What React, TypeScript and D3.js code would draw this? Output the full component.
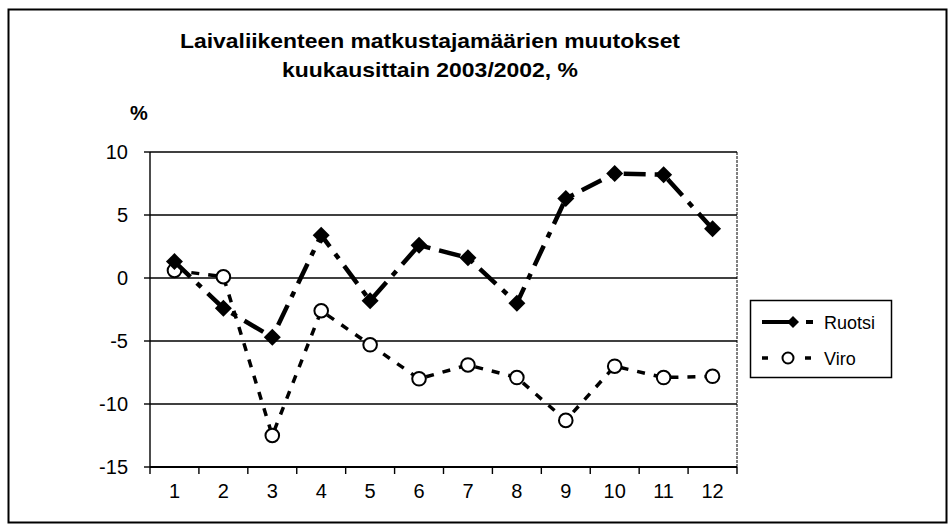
import React from "react";
import * as d3 from "d3";

const months = ["1", "2", "3", "4", "5", "6", "7", "8", "9", "10", "11", "12"];
const ruotsi = [1.3, -2.4, -4.7, 3.4, -1.8, 2.6, 1.6, -2.0, 6.3, 8.3, 8.2, 3.9];
const viro = [0.6, 0.1, -12.5, -2.6, -5.3, -8.0, -6.9, -7.9, -11.3, -7.0, -7.9, -7.8];
const yTicks = [10, 5, 0, -5, -10, -15];

const W = 950;
const H = 524;
const plot = { left: 150, right: 737, top: 152, bottom: 467 };
const font = "'Liberation Sans', Arial, sans-serif";

const diamondPath = (r: number) => `M0,${-r}L${r},0L0,${r}L${-r},0Z`;

export default function App() {
  const x = d3.scaleBand<string>().domain(months).range([plot.left, plot.right]);
  const y = d3.scaleLinear().domain([-15, 10]).range([plot.bottom, plot.top]);
  const cx = (m: string) => (x(m) as number) + x.bandwidth() / 2;
  const line = d3
    .line<number>()
    .x((_, i) => cx(months[i]))
    .y((v) => y(v));
  const boundaries = d3.range(months.length + 1).map((i) => plot.left + i * x.bandwidth());

  const legX = 750;
  const legY = 300;
  const legW = 141;
  const legH = 77;

  return (
    <svg
      width={W}
      height={H}
      style={{ position: "absolute", left: 0, top: 0, background: "#fff" }}
    >
      <rect x={0} y={0} width={W} height={H} fill="#fff" />
      <rect x={8.5} y={9.5} width={938} height={513} fill="none" stroke="#000" strokeWidth={2} />
      <text x={430} y={48} textAnchor="middle" fontFamily={font} fontWeight="bold" fontSize={21}
        textLength={500} lengthAdjust="spacingAndGlyphs">
        Laivaliikenteen matkustajamäärien muutokset
      </text>
      <text x={430} y={77} textAnchor="middle" fontFamily={font} fontWeight="bold" fontSize={21}
        textLength={296} lengthAdjust="spacingAndGlyphs">
        kuukausittain 2003/2002, %
      </text>
      <text x={139} y={120} textAnchor="middle" fontFamily={font} fontWeight="bold" fontSize={20}>
        %
      </text>

      {/* gridlines */}
      {yTicks.map((t) => (
        <line key={t} x1={plot.left} x2={plot.right} y1={y(t)} y2={y(t)} stroke="#000" strokeWidth={1.4} />
      ))}
      {/* plot border */}
      <line x1={plot.left} x2={plot.left} y1={plot.top} y2={plot.bottom} stroke="#000" strokeWidth={1.4} />
      <line x1={plot.right} x2={plot.right} y1={plot.top} y2={plot.bottom} stroke="#000" strokeWidth={1} strokeDasharray="3 1" />
      <line x1={plot.left} x2={plot.right} y1={plot.bottom} y2={plot.bottom} stroke="#000" strokeWidth={2} />

      {/* y ticks */}
      {yTicks.map((t) => (
        <g key={"yt" + t}>
          <line x1={plot.left - 6} x2={plot.left} y1={y(t)} y2={y(t)} stroke="#000" strokeWidth={1.4} />
          <text x={128} y={y(t) + 7} textAnchor="end" fontFamily={font} fontSize={20}>
            {t}
          </text>
        </g>
      ))}
      {/* x ticks */}
      {boundaries.map((b, i) => (
        <line key={"xt" + i} x1={b} x2={b} y1={plot.bottom} y2={plot.bottom + 7} stroke="#000" strokeWidth={1.4} />
      ))}
      {months.map((m) => (
        <text key={"xl" + m} x={cx(m)} y={498} textAnchor="middle" fontFamily={font} fontSize={20}>
          {m}
        </text>
      ))}

      {/* Viro */}
      <path d={line(viro) as string} fill="none" stroke="#000" strokeWidth={3.5} strokeDasharray="8 9" />
      {viro.map((v, i) => (
        <circle key={"v" + i} cx={cx(months[i])} cy={y(v)} r={6.8} fill="#fff" stroke="#000" strokeWidth={2} />
      ))}

      {/* Ruotsi */}
      <path d={line(ruotsi) as string} fill="none" stroke="#000" strokeWidth={4.5} strokeDasharray="22 9 6 9" />
      {ruotsi.map((v, i) => (
        <path key={"r" + i} d={diamondPath(8.5)} transform={`translate(${cx(months[i])},${y(v)})`} fill="#000" />
      ))}

      {/* legend */}
      <rect x={legX + 0.5} y={legY + 0.5} width={legW} height={legH} fill="#fff" stroke="#000" strokeWidth={1.5} />
      <line x1={legX + 12} x2={legX + 42} y1={legY + 22} y2={legY + 22} stroke="#000" strokeWidth={4} />
      <line x1={legX + 56} x2={legX + 63} y1={legY + 22} y2={legY + 22} stroke="#000" strokeWidth={4} />
      <path d={diamondPath(6)} transform={`translate(${legX + 43},${legY + 22})`} fill="#000" />
      <text x={legX + 74} y={legY + 29} fontFamily={font} fontSize={18}>
        Ruotsi
      </text>
      <line x1={legX + 12} x2={legX + 18} y1={legY + 58} y2={legY + 58} stroke="#000" strokeWidth={3.5} />
      <line x1={legX + 55} x2={legX + 61} y1={legY + 58} y2={legY + 58} stroke="#000" strokeWidth={3.5} />
      <circle cx={legX + 38} cy={legY + 58} r={5.5} fill="#fff" stroke="#000" strokeWidth={2} />
      <text x={legX + 74} y={legY + 65} fontFamily={font} fontSize={18}>
        Viro
      </text>
    </svg>
  );
}
